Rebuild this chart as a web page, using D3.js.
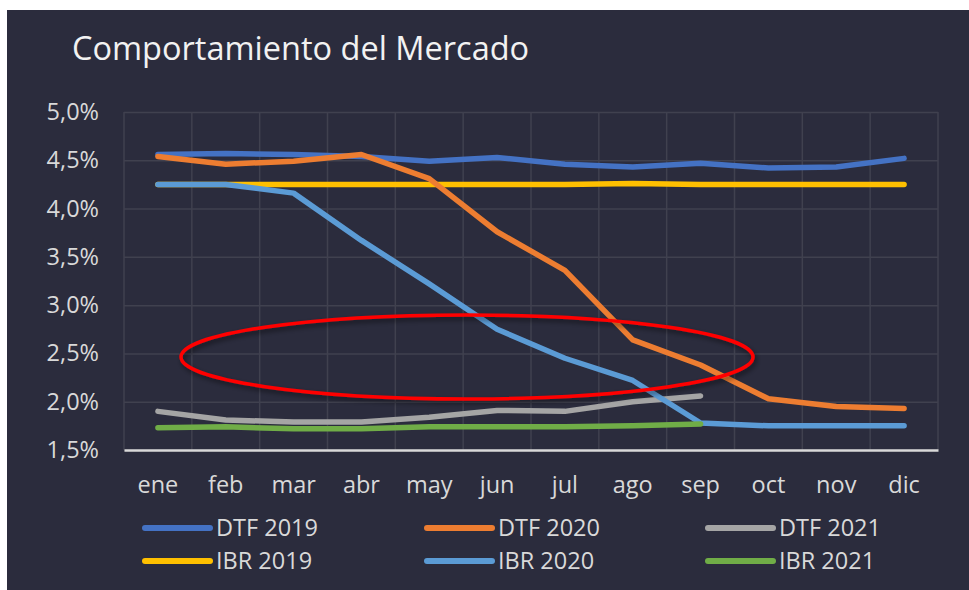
<!DOCTYPE html>
<html>
<head>
<meta charset="utf-8">
<script src="https://cdn.jsdelivr.net/npm/d3@7"></script>
<style>
  html, body { margin: 0; padding: 0; background: #ffffff; }
  svg { display: block; font-family: "Open Sans", sans-serif; }
</style>
</head>
<body>
<div id="chart"></div>
<script>
// categories and tick labels
const months = ['ene', 'feb', 'mar', 'abr', 'may', 'jun', 'jul', 'ago', 'sep', 'oct', 'nov', 'dic'];
const yTicks = [1.5, 2.0, 2.5, 3.0, 3.5, 4.0, 4.5, 5.0];

// series values (%)
const dtf2019 = [4.56, 4.57, 4.56, 4.54, 4.49, 4.53, 4.46, 4.43, 4.47, 4.42, 4.43, 4.52];
const dtf2020 = [4.54, 4.46, 4.49, 4.56, 4.31, 3.76, 3.36, 2.64, 2.38, 2.03, 1.95, 1.93];
const dtf2021 = [1.90, 1.81, 1.79, 1.79, 1.84, 1.91, 1.90, 2.00, 2.06];
const ibr2019 = [4.25, 4.25, 4.25, 4.25, 4.25, 4.25, 4.25, 4.26, 4.25, 4.25, 4.25, 4.25];
const ibr2020 = [4.25, 4.25, 4.16, 3.67, 3.22, 2.75, 2.45, 2.22, 1.78, 1.75, 1.75, 1.75];
const ibr2021 = [1.73, 1.74, 1.72, 1.72, 1.74, 1.74, 1.74, 1.75, 1.77];

const seriesNames = ['DTF 2019', 'DTF 2020', 'DTF 2021', 'IBR 2019', 'IBR 2020', 'IBR 2021'];

const series = [
  { name: seriesNames[0], values: dtf2019, color: '#4472C4' },
  { name: seriesNames[1], values: dtf2020, color: '#ED7D31' },
  { name: seriesNames[2], values: dtf2021, color: '#A5A5A5' },
  { name: seriesNames[3], values: ibr2019, color: '#FFC000' },
  { name: seriesNames[4], values: ibr2020, color: '#5B9BD5' },
  { name: seriesNames[5], values: ibr2021, color: '#70AD47' },
];

const W = 969, H = 590;
const margin = { top: 112, right: 31, bottom: 140, left: 124 };
const width = W - margin.left - margin.right,
  height = H - margin.top - margin.bottom;

const svg = d3.select('#chart').append('svg')
  .attr('width', W)
  .attr('height', H);

const defs = svg.append('defs');
const shadow = defs.append('filter').attr('id', 'shadow')
  .attr('x', '-10%').attr('y', '-30%').attr('width', '120%').attr('height', '160%');
shadow.append('feDropShadow')
  .attr('dx', 2).attr('dy', 3).attr('stdDeviation', 2.5)
  .attr('flood-color', '#000').attr('flood-opacity', 0.5);

// panel
svg.append('rect')
  .attr('x', 7).attr('y', 10)
  .attr('width', W - 7).attr('height', H - 10)
  .attr('fill', '#2B2C3D');

svg.append('text')
  .attr('x', 72).attr('y', 60)
  .attr('fill', '#F2F2F2')
  .attr('font-size', 32.5)
  .text('Comportamiento del Mercado');

const g = svg.append('g')
  .attr('transform', `translate(${margin.left},${margin.top})`);

const x = d3.scaleBand().domain(months).range([0, width]);
const y = d3.scaleLinear().domain([1.5, 5.0]).range([height, 0]);

// horizontal grid
g.append('g')
  .attr('class', 'grid-y')
  .call(d3.axisLeft(y).tickValues(yTicks).tickSize(-width).tickFormat(''))
  .call((s) => s.select('.domain').remove())
  .selectAll('line')
  .attr('stroke', '#40414F')
  .attr('stroke-width', 1.5);

// vertical grid at band edges
const edges = months.map((m) => x(m)).concat([width]);
g.append('g')
  .attr('class', 'grid-x')
  .selectAll('line')
  .data(edges)
  .join('line')
  .attr('x1', (d) => d).attr('x2', (d) => d)
  .attr('y1', 0).attr('y2', height)
  .attr('stroke', '#40414F')
  .attr('stroke-width', 1.5);

// y labels
const yAxis = g.append('g')
  .call(d3.axisLeft(y).tickValues(yTicks).tickSize(0).tickPadding(25)
    .tickFormat((d) => d3.format('.1f')(d).replace('.', ',') + '%'));
yAxis.select('.domain').remove();
yAxis.selectAll('text')
  .attr('fill', '#D9D9D9')
  .attr('font-size', 23.5)
  .attr('font-family', '"Open Sans", sans-serif');

// x labels
const xAxis = g.append('g')
  .attr('transform', `translate(0,${height})`)
  .call(d3.axisBottom(x).tickSize(0).tickPadding(26));
xAxis.select('.domain')
  .attr('stroke', '#D9D9D9')
  .attr('stroke-width', 2.5);
xAxis.selectAll('text')
  .attr('fill', '#D9D9D9')
  .attr('font-size', 23.5)
  .attr('font-family', '"Open Sans", sans-serif');

const line = d3.line()
  .x((d, i) => x(months[i]) + x.bandwidth() / 2)
  .y((d) => y(d));

// draw order so that IBR 2020 sits on top of IBR 2019 as in the picture
const drawOrder = [0, 3, 1, 2, 4, 5];
g.append('g')
  .selectAll('path')
  .data(drawOrder.map((i) => series[i]))
  .join('path')
  .attr('d', (d) => line(d.values))
  .attr('fill', 'none')
  .attr('stroke', (d) => d.color)
  .attr('stroke-width', 5.5)
  .attr('stroke-linecap', 'round')
  .attr('stroke-linejoin', 'round');

// red annotation ellipse
svg.append('ellipse')
  .attr('cx', 467).attr('cy', 357)
  .attr('rx', 286).attr('ry', 42)
  .attr('fill', 'none')
  .attr('stroke', '#FF0000')
  .attr('stroke-width', 3.5)
  .attr('filter', 'url(#shadow)');

// legend
const legendCols = [145, 427, 708];
const legendRows = [528, 561];
const legend = svg.append('g')
  .selectAll('g')
  .data(series)
  .join('g')
  .attr('transform', (d, i) => `translate(${legendCols[i % 3]},${legendRows[Math.floor(i / 3)]})`);

legend.append('line')
  .attr('x1', 0).attr('x2', 65)
  .attr('y1', 0).attr('y2', 0)
  .attr('stroke', (d) => d.color)
  .attr('stroke-width', 6)
  .attr('stroke-linecap', 'round');

legend.append('text')
  .attr('x', 71).attr('y', 8)
  .attr('fill', '#D9D9D9')
  .attr('font-size', 23.5)
  .text((d) => d.name);
</script>
</body>
</html>
